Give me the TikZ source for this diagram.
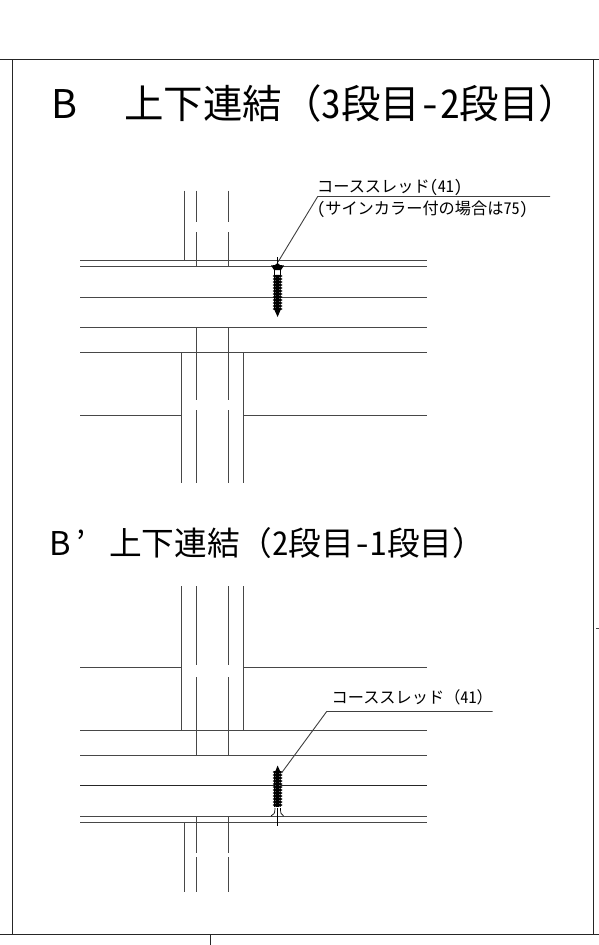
\documentclass[tikz,border=0pt]{standalone}
\usepackage{fontspec}
\setmainfont{Noto Sans CJK JP}
\newfontfamily\hw[RawFeature=+hwid]{Noto Sans CJK JP}
\newcommand{\hh}[1]{{\hw #1}}
\newcommand{\threads}[2]{%
  \fill[black] (273.8,#1) rectangle (281.4,#2);
  \foreach \yy in {#1,...,#2}{%
    \pgfmathtruncatemacro{\mm}{mod(\yy-#1,3)}%
    \ifnum\mm=0
      \fill[black] (277.6,\yy) ellipse [x radius=5,y radius=1.2];
      \fill[white] (279.8,\yy+1.5) circle (0.5);
      \fill[white] (275.6,\yy+1.5) circle (0.3);
    \fi}%
}
\tikzset{
  ln/.style={line width=1pt,draw=black!72},
  frm/.style={line width=1pt,draw=black!85},
  thin/.style={line width=0.9pt,draw=black!75},
  lbl/.style={anchor=base west,inner sep=0pt,font=\fontsize{16.2}{18}\selectfont,text=black},
  ttl/.style={anchor=base west,inner sep=0pt,text=black}
}
\begin{document}
\begin{tikzpicture}[x=1pt,y=-1pt]
\useasboundingbox (0,0) rectangle (599,945);
\fill[white] (0,0) rectangle (599,945);
% frame
\draw[frm] (0,59.5) -- (599,59.5);
\draw[frm] (0,934.5) -- (599,934.5);
\draw[frm] (12.5,59.5) -- (12.5,934.5);
\draw[frm] (593.5,59.5) -- (593.5,934.5);
\draw[frm] (210.5,934.5) -- (210.5,945);
\draw[ln] (596,628.5) -- (599,628.5);
% titles
\node[ttl,font=\fontsize{39.5}{44}\selectfont] (title1) at (45,118) {\makebox[1em]{B}　上下連結（\hh{3}段目\hh{-2}段目）};
\node[ttl,font=\fontsize{32.7}{38}\selectfont] (title2) at (43.5,555) {\makebox[1em]{B}\makebox[1em][l]{’}上下連結（\hh{2}段目\hh{-1}段目）};
% upper joint
\foreach \yy in {260.5,266.5,297.5,327.5,352.5}{\draw[ln] (80,\yy) -- (426.5,\yy);}
\draw[ln] (80,415.5) -- (181.5,415.5);
\draw[ln] (243.5,415.5) -- (426.5,415.5);
\draw[ln] (184.5,190.5) -- (184.5,260.5);
\foreach \xx in {196.5,228.5}{
  \draw[ln] (\xx,190.5) -- (\xx,222);
  \draw[ln] (\xx,232) -- (\xx,266.5);
  \draw[ln] (\xx,327.5) -- (\xx,400);
  \draw[ln] (\xx,410) -- (\xx,483);
}
\foreach \xx in {181.5,243.5}{\draw[ln] (\xx,352.5) -- (\xx,483);}
% upper screw
\draw[line width=0.8pt] (277.6,257) -- (277.6,267);
\fill[black] (271,265.5) -- (275,265) -- (277.6,263) -- (280,265) -- (284,265.5) -- (281,270) -- (274,270) -- cycle;
\draw[line width=0.7pt] (274.6,270) -- (274.6,276) (280.6,270) -- (280.6,276);
\threads{276}{309}
\fill[black] (274,309) -- (281,309) -- (277.6,317) -- cycle;
% upper leader
\coordinate (s1) at (278,262);
\coordinate (k1) at (317.7,196.5);
\coordinate (e1) at (550,196.5);
\draw[thin] (s1) -- (k1) -- (e1);
\node[lbl] (t1a) at (317,192.3) {コーススレッド\hh{(41)}};
\node[lbl] (t1b) at (317,214.5) {\hh{(}サインカラー付の場合は\hh{75)}};
% lower joint
\foreach \yy in {730.5,755.5,816.5,822.5}{\draw[ln] (80,\yy) -- (426.5,\yy);}
\draw[line width=1.2pt,draw=black!85] (80,785.5) -- (426.5,785.5);
\draw[ln] (80,667.5) -- (181.5,667.5);
\draw[ln] (243.5,667.5) -- (426.5,667.5);
\foreach \xx in {181.5,243.5}{\draw[ln] (\xx,586) -- (\xx,730.5);}
\foreach \xx in {196.5,228.5}{
  \draw[ln] (\xx,586) -- (\xx,665);
  \draw[ln] (\xx,677) -- (\xx,755.5);
  \draw[ln] (\xx,816.5) -- (\xx,853);
  \draw[ln] (\xx,857) -- (\xx,892);
}
\draw[ln] (184.5,822.5) -- (184.5,892);
% lower screw
\fill[black] (277.6,765.5) -- (275,772) -- (280.5,772) -- cycle;
\threads{772}{807}
\draw[line width=0.7pt] (275,808) .. controls (275,813) and (274,815) .. (271,816);
\draw[line width=0.7pt] (280.5,808) .. controls (280.5,813) and (281,815) .. (283.5,816);
\draw[line width=0.9pt] (277.6,808) -- (277.6,826);
% lower leader
\coordinate (s2) at (281.5,773);
\coordinate (k2) at (326.7,711.5);
\coordinate (e2) at (492.7,711.5);
\draw[thin] (s2) -- (k2) -- (e2);
\node[lbl] (t2) at (331.5,703.7) {コーススレッド（\hh{41}）};
\end{tikzpicture}
\end{document}
